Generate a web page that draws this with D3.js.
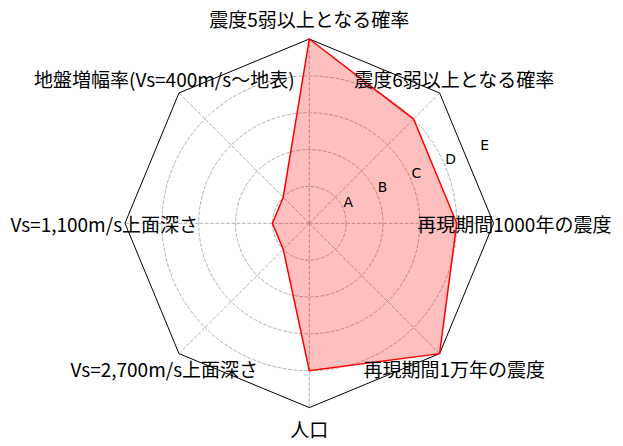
<!DOCTYPE html>
<html><head><meta charset="utf-8">
<script src="https://cdn.jsdelivr.net/npm/d3@7"></script>
<style>html,body{margin:0;padding:0;background:#fff;}</style>
</head><body>
<svg id="chart" width="623" height="446"></svg>
<script>
const categories = ["震度5弱以上となる確率","震度6弱以上となる確率","再現期間1000年の震度","再現期間1万年の震度","人口","Vs=2,700m/s上面深さ","Vs=1,100m/s上面深さ","地盤増幅率(Vs=400m/s〜地表)"];
const values = [5, 4, 4, 5, 4, 1, 1, 1];
const tickValues = [1, 2, 3, 4, 5];
const tickLabels = ["A", "B", "C", "D", "E"];

const W = 623, H = 446, cx = 309.3, cy = 223.3, R = 184.3;
const svg = d3.select("#chart");
const g = svg.append("g").attr("transform", `translate(${cx},${cy})`);
const r = d3.scaleLinear().domain([0, 5]).range([0, R]);
const n = categories.length;
const ang = d3.scaleLinear().domain([0, n]).range([0, 2 * Math.PI]);
const pt = (i, v) => [r(v) * Math.sin(ang(i)), -r(v) * Math.cos(ang(i))];

// grid circles
g.selectAll("circle.grid").data(tickValues.slice(0, 4)).join("circle")
  .attr("r", d => r(d)).attr("fill", "none")
  .attr("stroke", "#b0b0b0").attr("stroke-width", 1).attr("stroke-dasharray", "3.7,1.6");
// spokes
g.selectAll("line.spoke").data(d3.range(n)).join("line")
  .attr("x1", 0).attr("y1", 0)
  .attr("x2", i => pt(i, 5)[0]).attr("y2", i => pt(i, 5)[1])
  .attr("stroke", "#b0b0b0").attr("stroke-width", 1).attr("stroke-dasharray", "3.7,1.6");

// frame
const line = d3.line().curve(d3.curveLinearClosed);
g.append("path").attr("d", line(d3.range(n).map(i => pt(i, 5))))
  .attr("fill", "none").attr("stroke", "#000").attr("stroke-width", 1);

// data
g.append("path").attr("d", line(values.map((v, i) => pt(i, v))))
  .attr("fill", "rgba(255,0,0,0.25)").attr("stroke", "red").attr("stroke-width", 1.5)
  .attr("stroke-linejoin", "miter");

// tick labels
const la = 67.5 * Math.PI / 180;
g.selectAll("text.tick").data(tickValues).join("text")
  .attr("x", d => r(d) * Math.sin(la) + 5)
  .attr("y", d => -r(d) * Math.cos(la) - 7.7)
  .attr("text-anchor", "middle").attr("dominant-baseline", "central")
  .attr("font-family", "DejaVu Sans").attr("font-size", 13.9).attr("fill", "#000")
  .text((d, i) => tickLabels[i]);

// category labels
g.selectAll("text.cat").data(categories).join("text")
  .attr("x", (d, i) => 205 * Math.sin(ang(i)))
  .attr("y", (d, i) => -205 * Math.cos(ang(i)))
  .attr("text-anchor", "middle").attr("dominant-baseline", "central")
  .attr("font-family", "'Noto Sans CJK JP'").attr("font-size", 19).attr("fill", "#000")
  .text(d => d);
</script>
</body></html>
